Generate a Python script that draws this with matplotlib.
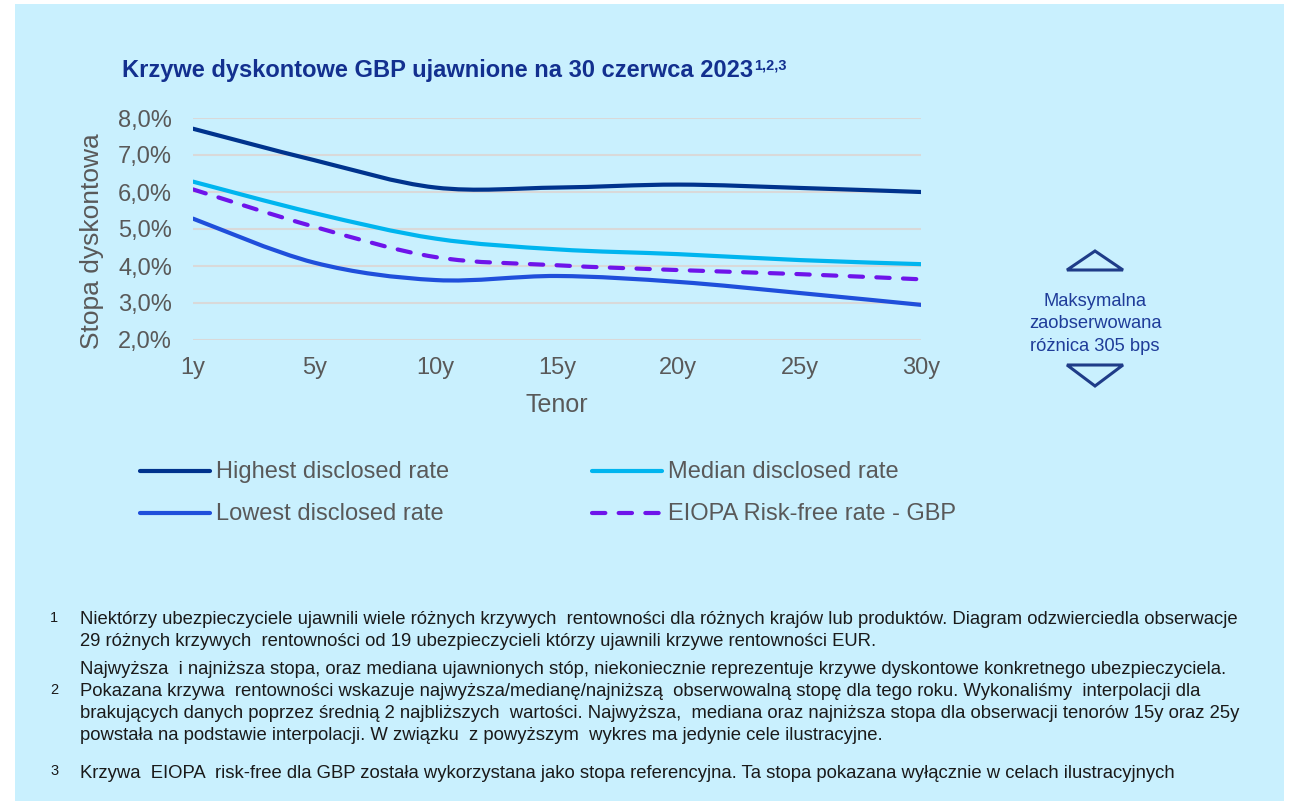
import matplotlib
matplotlib.use("Agg")
import matplotlib.pyplot as plt
from matplotlib.path import Path
from matplotlib.patches import PathPatch, Rectangle, Polygon
from matplotlib.lines import Line2D
from matplotlib.ticker import FuncFormatter

plt.rcParams['font.family'] = ['Liberation Sans', 'DejaVu Sans']

# stopy dyskontowe (%) dla kolejnych tenorów
tenors = ['1y', '5y', '10y', '15y', '20y', '25y', '30y']
highest = [7.71, 6.86, 6.12, 6.12, 6.20, 6.11, 6.00]
median = [6.28, 5.43, 4.74, 4.45, 4.32, 4.16, 4.05]
lowest = [5.28, 4.09, 3.62, 3.73, 3.57, 3.27, 2.95]
eiopa = [6.07, 5.06, 4.24, 4.02, 3.89, 3.78, 3.64]

labels = ['Highest disclosed rate', 'Median disclosed rate',
          'Lowest disclosed rate', 'EIOPA Risk-free rate - GBP']
colors = ['#00338D', '#00B5EF', '#1F4FDB', '#6E14EA']

W, H = 1294, 801
BG = '#C9F0FE'
GREY = '#595959'
NAVY = '#13308F'


def fx(px):
    return px / W


def fy(py):
    return 1 - py / H


def smooth_path(x, y):
    # wygładzona linia (krzywe Beziera jak w Excelu)
    verts = [(x[0], y[0])]
    codes = [Path.MOVETO]
    n = len(x)
    for i in range(n - 1):
        a = i - 1 if i > 0 else i
        b = i + 2 if i + 2 < n else i + 1
        c1 = (x[i] + (x[i + 1] - x[a]) / 6, y[i] + (y[i + 1] - y[a]) / 6)
        c2 = (x[i + 1] - (x[b] - x[i]) / 6, y[i + 1] - (y[b] - y[i]) / 6)
        verts += [c1, c2, (x[i + 1], y[i + 1])]
        codes += [Path.CURVE4] * 3
    return Path(verts, codes)


fig = plt.figure(figsize=(W / 100, H / 100), dpi=100)
fig.patch.set_facecolor('white')
fig.patches.append(Rectangle((fx(15), 0), fx(1284) - fx(15), fy(4),
                             transform=fig.transFigure, facecolor=BG,
                             edgecolor='none', zorder=-10))

ax = fig.add_axes([fx(193), fy(340), fx(921) - fx(193), fy(118) - fy(340)])
ax.set_facecolor('none')
for s in ax.spines.values():
    s.set_visible(False)

xs = list(range(len(tenors)))
series = [highest, median, lowest, eiopa]
for vals, col, lab in zip(series, colors, labels):
    ls = (0, (3.2, 3.2)) if lab.startswith('EIOPA') else '-'
    p = PathPatch(smooth_path(xs, vals), facecolor='none', edgecolor=col,
                  lw=3, linestyle=ls, capstyle='round', joinstyle='round',
                  zorder=3)
    ax.add_patch(p)

ax.set_xlim(0, len(tenors) - 1)
ax.set_ylim(2, 8)
ax.set_yticks([2, 3, 4, 5, 6, 7, 8])
ax.yaxis.set_major_formatter(FuncFormatter(lambda v, p: f'{v:.1f}%'.replace('.', ',')))
ax.set_xticks(xs)
ax.set_xticklabels(tenors)
ax.grid(axis='y', color='#D9D9D9', lw=1.5, zorder=0)
ax.tick_params(length=0, labelsize=17, colors=GREY)
ax.tick_params(axis='y', pad=15)
ax.tick_params(axis='x', pad=12)

fig.text(fx(92), fy(241), 'Stopa dyskontowa', rotation=90, fontsize=19,
         color=GREY, ha='center', va='center')
fig.text(fx(557), fy(405), 'Tenor', fontsize=18, color=GREY,
         ha='center', va='center')

# tytuł z odnośnikami
title = fig.text(fx(122), fy(71), 'Krzywe dyskontowe GBP ujawnione na 30 czerwca 2023',
                 fontsize=17, fontweight='bold', color=NAVY, va='center')
fig.canvas.draw()
bb = title.get_window_extent(fig.canvas.get_renderer())
fig.text(bb.x1 / W + 0.001, fy(65), '1,2,3', fontsize=10.5, fontweight='bold',
         color=NAVY, va='center')

# legenda
leg_pos = [(140, 471), (592, 471), (140, 513), (592, 513)]
for (px, py), col, lab in zip(leg_pos, colors, labels):
    ls = (0, (3.2, 3.2)) if lab.startswith('EIOPA') else '-'
    fig.add_artist(Line2D([fx(px), fx(px + 70)], [fy(py), fy(py)],
                          transform=fig.transFigure, color=col, lw=3,
                          linestyle=ls, solid_capstyle='round',
                          dash_capstyle='round'))
    fig.text(fx(px + 76), fy(py + 1), lab, fontsize=17, color=GREY, va='center')

# adnotacja po prawej
fig.patches.append(Polygon([(fx(1067), fy(270)), (fx(1095), fy(251)), (fx(1123), fy(270))],
                           closed=True, transform=fig.transFigure,
                           facecolor='none', edgecolor='#1F3C88', lw=2.2))
fig.patches.append(Polygon([(fx(1067), fy(365)), (fx(1095), fy(386)), (fx(1123), fy(365))],
                           closed=True, transform=fig.transFigure,
                           facecolor='none', edgecolor='#1F3C88', lw=2.2))
fig.text(fx(1095), fy(324), 'Maksymalna\nzaobserwowana\nróżnica 305 bps',
         fontsize=13.2, color='#1F3C99', ha='center', va='center',
         linespacing=1.4)

# przypisy
notes = [
    (620, 'Niektórzy ubezpieczyciele ujawnili wiele różnych krzywych  rentowności dla różnych krajów lub produktów. Diagram odzwierciedla obserwacje'),
    (641, '29 różnych krzywych  rentowności od 19 ubezpieczycieli którzy ujawnili krzywe rentowności EUR.'),
    (670, 'Najwyższa  i najniższa stopa, oraz mediana ujawnionych stóp, niekoniecznie reprezentuje krzywe dyskontowe konkretnego ubezpieczyciela.'),
    (692, 'Pokazana krzywa  rentowności wskazuje najwyższa/medianę/najniższą  obserwowalną stopę dla tego roku. Wykonaliśmy  interpolacji dla'),
    (714, 'brakujących danych poprzez średnią 2 najbliższych  wartości. Najwyższa,  mediana oraz najniższa stopa dla obserwacji tenorów 15y oraz 25y'),
    (736, 'powstała na podstawie interpolacji. W związku  z powyższym  wykres ma jedynie cele ilustracyjne.'),
    (773, 'Krzywa  EIOPA  risk-free dla GBP została wykorzystana jako stopa referencyjna. Ta stopa pokazana wyłącznie w celach ilustracyjnych'),
]
for py, txt in notes:
    fig.text(fx(80), fy(py), txt, fontsize=13.3, color='#1A1A1A', va='center')
for py, num in [(618, '1'), (690, '2'), (771, '3')]:
    fig.text(fx(50), fy(py), num, fontsize=10.5, color='#1A1A1A', va='center')

fig.savefig('out.png', dpi=100, facecolor=fig.get_facecolor())
